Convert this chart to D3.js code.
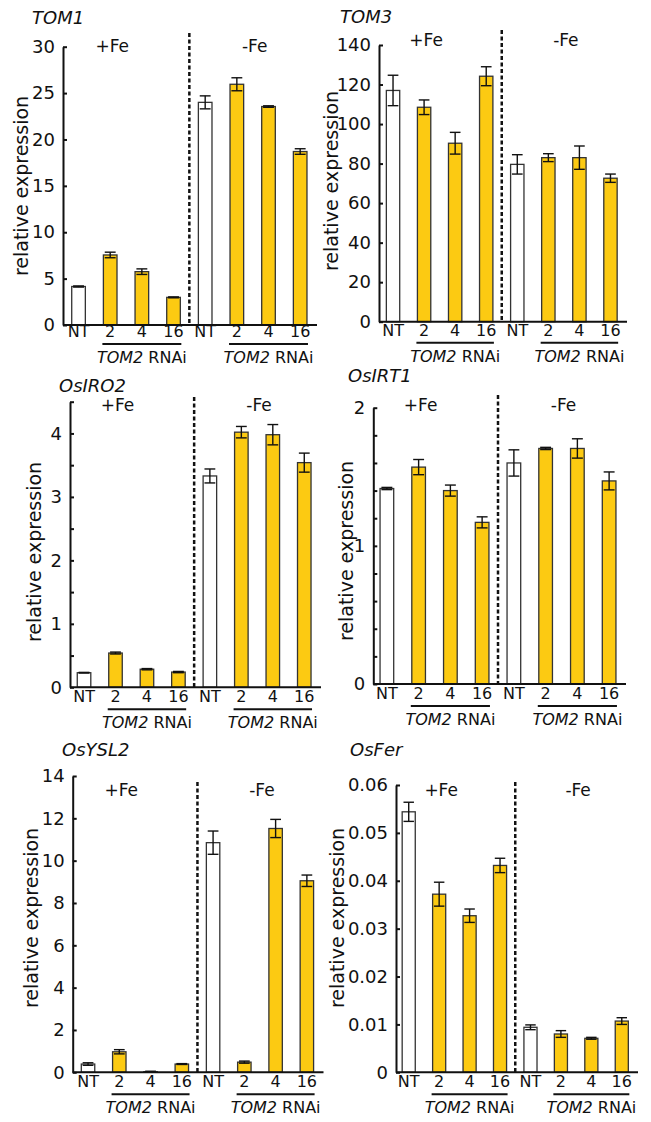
<!DOCTYPE html>
<html>
<head>
<meta charset="utf-8">
<script src="https://cdn.jsdelivr.net/npm/d3@7"></script>
<style>
  body { margin: 0; background: #fff; }
  svg text { font-family: "DejaVu Sans", "Liberation Sans", Arial, sans-serif; fill: #111; }
  .title { font-style: italic; font-size: 18px; }
  .tick text { font-size: 18px; }
  .ylab { font-size: 19px; }
  .fe { font-size: 17px; }
  .xlab { font-size: 16px; }
  .rnai { font-size: 16px; }
</style>
</head>
<body>
<svg class="chart" width="651" height="1122"></svg>
<script>
// x categories (4 lines under +Fe, then the same 4 under -Fe)
var lines = ["NT", "2", "4", "16"];
var groups = ["+Fe", "-Fe"];

var tom1Mean = [4.15, 7.55, 5.75, 2.98, 24.0, 25.95, 23.55, 18.7];
var tom1Err  = [0.06, 0.3, 0.3, 0.05, 0.7, 0.7, 0.08, 0.3];
var tom1Ticks = [0, 5, 10, 15, 20, 25, 30];

var tom3Mean = [117, 108.5, 90.3, 124.2, 79.6, 83, 83, 72.6];
var tom3Err  = [7.7, 3.7, 5.5, 4.8, 4.9, 2, 5.9, 2.1];
var tom3Ticks = [0, 20, 40, 60, 80, 100, 120, 140];

var iro2Mean = [0.23, 0.54, 0.285, 0.24, 3.33, 4.02, 3.98, 3.54];
var iro2Err  = [0.005, 0.015, 0.01, 0.01, 0.11, 0.09, 0.16, 0.15];
var iro2Ticks = [0, 0.5, 1, 1.5, 2, 2.5, 3, 3.5, 4, 4.5];
var iro2Labels = [0, 1, 2, 3, 4];

var irt1Mean = [1.415, 1.57, 1.40, 1.17, 1.6, 1.705, 1.705, 1.47];
var irt1Err  = [0.008, 0.055, 0.04, 0.04, 0.095, 0.008, 0.07, 0.065];
var irt1Ticks = [0, 0.2, 0.4, 0.6, 0.8, 1, 1.2, 1.4, 1.6, 1.8, 2];
var irt1Labels = [0, 1, 2];

var ysl2Mean = [0.39, 0.97, 0.03, 0.39, 10.85, 0.48, 11.52, 9.05];
var ysl2Err  = [0.06, 0.1, 0.02, 0.02, 0.55, 0.05, 0.43, 0.27];
var ysl2Ticks = [0, 2, 4, 6, 8, 10, 12, 14];

var ferMean = [0.0544, 0.0372, 0.0327, 0.0432, 0.0094, 0.0080, 0.0071, 0.0107];
var ferErr  = [0.002, 0.0025, 0.0014, 0.0015, 0.0005, 0.0007, 0.0002, 0.0007];
var ferTicks = [0, 0.01, 0.02, 0.03, 0.04, 0.05, 0.06];

var panels = [
  {name: "TOM1", mean: tom1Mean, err: tom1Err, ticks: tom1Ticks, labels: tom1Ticks,
   ax: 63, x0: 62.7, x1: 316, y0: 325, y1: 46.7, tx: 32, ty: 24, lx: 22, ly: 186, feY: 52, dashTop: 33, lab: 12},
  {name: "TOM3", mean: tom3Mean, err: tom3Err, ticks: tom3Ticks, labels: tom3Ticks,
   ax: 379, x0: 377.5, x1: 626, y0: 321.7, y1: 45, tx: 340, ty: 23, lx: 332, ly: 181, feY: 46, dashTop: 30, lab: 14},
  {name: "OsIRO2", mean: iro2Mean, err: iro2Err, ticks: iro2Ticks, labels: iro2Labels,
   ax: 70, x0: 68.3, x1: 320, y0: 687.3, y1: 401.7, tx: 59, ty: 392, lx: 35, ly: 552, feY: 411, dashTop: 397, lab: 15},
  {name: "OsIRT1", mean: irt1Mean, err: irt1Err, ticks: irt1Ticks, labels: irt1Labels,
   ax: 373.3, x0: 371, x1: 625, y0: 684, y1: 407.7, tx: 348, ty: 382, lx: 347, ly: 551, feY: 411, dashTop: 395, lab: 15},
  {name: "OsYSL2", mean: ysl2Mean, err: ysl2Err, ticks: ysl2Ticks, labels: ysl2Ticks,
   ax: 72.7, x0: 72.4, x1: 322.5, y0: 1072.3, y1: 776, tx: 62, ty: 756, lx: 32, ly: 918, feY: 796, dashTop: 782, lab: 15},
  {name: "OsFer", mean: ferMean, err: ferErr, ticks: ferTicks, labels: ferTicks,
   ax: 396, x0: 393.5, x1: 637, y0: 1072.3, y1: 785, tx: 350, ty: 756, lx: 338, ly: 918, feY: 796, dashTop: 782, lab: 15}
];

var svg = d3.select(".chart");
var fill = "#fcca12", edge = "#333";

panels.forEach(function(p) {
  var g = svg.append("g");
  var idx = d3.range(8);

  var x = d3.scaleBand()
    .domain(idx)
    .range([p.x0, p.x1])
    .paddingInner(0.57)
    .paddingOuter(0.285);

  var y = d3.scaleLinear()
    .domain([0, d3.max(p.ticks)])
    .range([p.y0, p.y1]);

  var bw = x.bandwidth();

  // bars
  g.selectAll("rect.bar")
    .data(idx)
    .enter().append("rect")
    .attr("class", "bar")
    .attr("x", function(i) { return x(i); })
    .attr("y", function(i) { return y(p.mean[i]); })
    .attr("width", bw)
    .attr("height", function(i) { return p.y0 - y(p.mean[i]); })
    .attr("fill", function(i) { return i % 4 === 0 ? "#fff" : fill; })
    .attr("stroke", edge)
    .attr("stroke-width", 1.3);

  // error bars
  var eb = g.selectAll("g.err")
    .data(idx)
    .enter().append("g")
    .attr("class", "err")
    .attr("stroke", "#111")
    .attr("stroke-width", 1.4);

  eb.append("line")
    .attr("x1", function(i) { return x(i) + bw / 2; })
    .attr("x2", function(i) { return x(i) + bw / 2; })
    .attr("y1", function(i) { return y(p.mean[i] - p.err[i]); })
    .attr("y2", function(i) { return y(p.mean[i] + p.err[i]); });

  [-1, 1].forEach(function(s) {
    eb.append("line")
      .attr("x1", function(i) { return x(i) + bw * 0.1; })
      .attr("x2", function(i) { return x(i) + bw * 0.9; })
      .attr("y1", function(i) { return y(p.mean[i] + s * p.err[i]); })
      .attr("y2", function(i) { return y(p.mean[i] + s * p.err[i]); });
  });

  // y axis, ticks inward
  var yAxis = d3.axisLeft(y)
    .tickValues(p.ticks)
    .tickSizeInner(-4)
    .tickSizeOuter(0)
    .tickPadding(8)
    .tickFormat(function(d) { return p.labels.indexOf(d) >= 0 ? d3.format("")(d) : ""; });

  var ya = g.append("g")
    .attr("transform", "translate(" + p.ax + ",0)")
    .call(yAxis);
  ya.select(".domain").attr("stroke", "#111").attr("stroke-width", 2);
  ya.selectAll(".tick line").attr("stroke", "#111").attr("stroke-width", 2);

  // x axis line
  g.append("line")
    .attr("x1", p.ax).attr("x2", p.x1 + 1)
    .attr("y1", p.y0).attr("y2", p.y0)
    .attr("stroke", "#111").attr("stroke-width", 2);

  // dashed separator
  var mid = (x(3) + x(4) + bw) / 2;
  g.append("line")
    .attr("x1", mid).attr("x2", mid)
    .attr("y1", p.dashTop).attr("y2", p.y0)
    .attr("stroke", "#111")
    .attr("stroke-width", 2.5)
    .attr("stroke-dasharray", "4,2.5");

  // x tick labels
  g.selectAll("text.xlab")
    .data(idx)
    .enter().append("text")
    .attr("class", "xlab")
    .attr("x", function(i) { return x(i) + bw / 2; })
    .attr("y", p.y0 + p.lab)
    .attr("text-anchor", "middle")
    .text(function(i) { return lines[i % 4]; });

  // TOM2 RNAi brackets
  [0, 4].forEach(function(k) {
    var a = x(k + 1) - 1, b = x(k + 3) + bw + 1;
    g.append("line")
      .attr("x1", a).attr("x2", b)
      .attr("y1", p.y0 + p.lab + 7).attr("y2", p.y0 + p.lab + 7)
      .attr("stroke", "#111").attr("stroke-width", 2);
    var t = g.append("text")
      .attr("class", "rnai")
      .attr("x", (a + b) / 2)
      .attr("y", p.y0 + p.lab + 26)
      .attr("text-anchor", "middle");
    t.append("tspan").style("font-style", "italic").text("TOM2");
    t.append("tspan").text(" RNAi");
  });

  // +Fe / -Fe
  g.append("text").attr("class", "fe")
    .attr("x", x(1) + bw / 2 + 2).attr("y", p.feY)
    .attr("text-anchor", "middle").text(groups[0]);
  g.append("text").attr("class", "fe")
    .attr("x", (x(4) + x(7) + bw) / 2 + 2).attr("y", p.feY)
    .attr("text-anchor", "middle").text(groups[1]);

  // gene title
  g.append("text").attr("class", "title")
    .attr("x", p.tx).attr("y", p.ty).text(p.name);

  // y label
  g.append("text").attr("class", "ylab")
    .attr("transform", "translate(" + (p.lx + 6) + "," + p.ly + ") rotate(-90)")
    .attr("text-anchor", "middle")
    .text("relative expression");
});
</script>
</body>
</html>
